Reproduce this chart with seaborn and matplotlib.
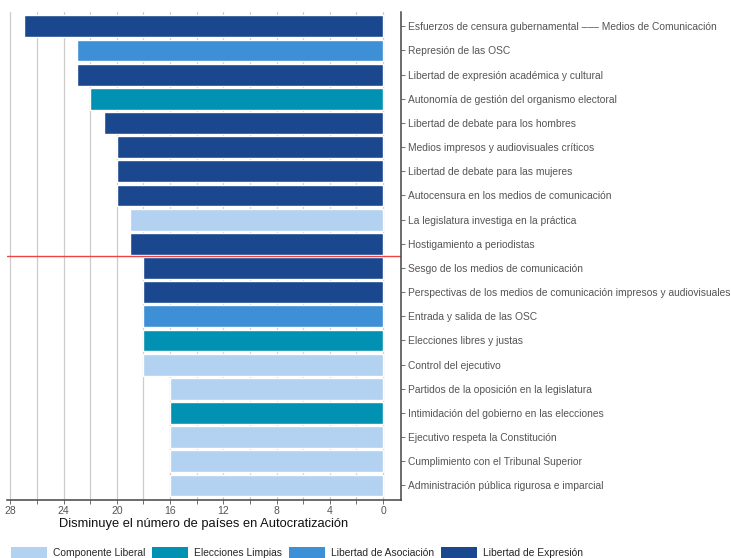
import pandas as pd
import matplotlib.pyplot as plt
import seaborn as sns
from matplotlib.patches import Patch
from matplotlib.ticker import MultipleLocator

# datos
indicadores = [
    'Esfuerzos de censura gubernamental ––– Medios de Comunicación',
    'Represión de las OSC',
    'Libertad de expresión académica y cultural',
    'Autonomía de gestión del organismo electoral',
    'Libertad de debate para los hombres',
    'Medios impresos y audiovisuales críticos',
    'Libertad de debate para las mujeres',
    'Autocensura en los medios de comunicación',
    'La legislatura investiga en la práctica',
    'Hostigamiento a periodistas',
    'Sesgo de los medios de comunicación',
    'Perspectivas de los medios de comunicación impresos y audiovisuales',
    'Entrada y salida de las OSC',
    'Elecciones libres y justas',
    'Control del ejecutivo',
    'Partidos de la oposición en la legislatura',
    'Intimidación del gobierno en las elecciones',
    'Ejecutivo respeta la Constitución',
    'Cumplimiento con el Tribunal Superior',
    'Administración pública rigurosa e imparcial',
]
valores = [27, 23, 23, 22, 21, 20, 20, 20, 19, 19,
           18, 18, 18, 18, 18, 16, 16, 16, 16, 16]
grupos = ['Libertad de Expresión', 'Libertad de Asociación', 'Libertad de Expresión',
          'Elecciones Limpias', 'Libertad de Expresión', 'Libertad de Expresión',
          'Libertad de Expresión', 'Libertad de Expresión', 'Componente Liberal',
          'Libertad de Expresión', 'Libertad de Expresión', 'Libertad de Expresión',
          'Libertad de Asociación', 'Elecciones Limpias', 'Componente Liberal',
          'Componente Liberal', 'Elecciones Limpias', 'Componente Liberal',
          'Componente Liberal', 'Componente Liberal']
orden_grupos = ['Componente Liberal', 'Elecciones Limpias',
                'Libertad de Asociación', 'Libertad de Expresión']
colores = ['#B3D1F0', '#0091B3', '#3D8FD6', '#1B478F']

df = pd.DataFrame({'indicador': indicadores, 'valor': valores, 'grupo': grupos})

sns.set_theme(style="white")
plt.rcParams['font.family'] = ['Liberation Sans', 'DejaVu Sans']

fig = plt.figure(figsize=(7.31, 5.58), dpi=100)
ax = fig.add_axes([0.0096, 0.104, 0.539, 0.874])

sns.barplot(data=df, y='indicador', x='valor', hue='grupo', hue_order=orden_grupos,
            palette=colores, orient='h', dodge=False, width=0.9,
            saturation=1, legend=False, ax=ax)

ax.set_xlim(28.25, -1.35)
ax.set_ylim(19.6, -0.58)
ax.xaxis.set_major_locator(MultipleLocator(4))
ax.xaxis.set_minor_locator(MultipleLocator(2))
ax.grid(True, axis='x', which='both', color='#cccccc', linewidth=0.9)
ax.set_axisbelow(True)

ax.yaxis.tick_right()
ax.set_ylabel('')
ax.set_xlabel('Disminuye el número de países en Autocratización',
              fontsize=9.3, color='#111111', labelpad=2)
ax.tick_params(axis='y', labelsize=7.4, labelcolor='#555555', length=3,
               color='#555555', width=0.6, pad=2, right=True, left=False)
ax.tick_params(axis='x', which='both', labelsize=7.5, labelcolor='#555555',
               length=3, color='#555555', width=0.6, pad=1, bottom=True)

for s in ['top', 'left']:
    ax.spines[s].set_visible(False)
for s in ['right', 'bottom']:
    ax.spines[s].set_color('#444444')
    ax.spines[s].set_linewidth(1.1)

ax.axhline(9.5, color='#ee4444', linewidth=1)

# leyenda inferior
handles = [Patch(facecolor=c, edgecolor='none', label=g)
           for g, c in zip(orden_grupos, colores)]
fig.legend(handles=handles, loc='lower left', bbox_to_anchor=(0.003, -0.019),
           ncol=4, frameon=False, fontsize=7.4,
           handlelength=3.5, handleheight=1.5, handletextpad=0.58,
           columnspacing=0.65)

plt.savefig('out.png', dpi=100)
